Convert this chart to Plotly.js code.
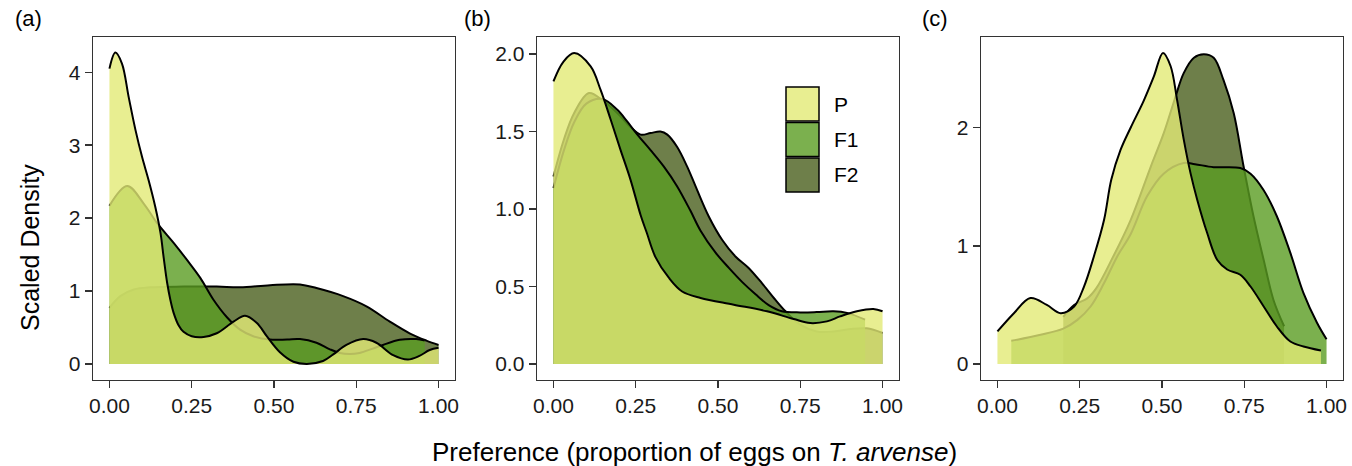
<!DOCTYPE html>
<html>
<head>
<meta charset="utf-8">
<script src="https://cdn.plot.ly/plotly-3.0.1.min.js"></script>
<style>html,body{margin:0;padding:0;background:#fff}#chart{width:1352px;height:466px}</style>
</head>
<body>
<div id="chart"></div>
<script>
// ---------- data ----------
const groups = ["P", "F1", "F2"];
const panelTags = ["(a)", "(b)", "(c)"];
const xTickVals = [0, 0.25, 0.5, 0.75, 1];
const xTickText = ["0.00", "0.25", "0.50", "0.75", "1.00"];

// panel (a)
const aP_x = [0, 0.018, 0.038, 0.058, 0.079, 0.099, 0.119, 0.139, 0.155, 0.165, 0.175, 0.185, 0.195, 0.21, 0.225, 0.25, 0.286, 0.326, 0.377, 0.412, 0.448, 0.478, 0.518, 0.559, 0.6, 0.649, 0.68, 0.72, 0.771, 0.811, 0.862, 0.907, 0.942, 0.973, 1.0];
const aP_y = [4.05, 4.27, 4.12, 3.67, 3.21, 2.84, 2.52, 2.16, 1.8, 1.45, 1.12, 0.88, 0.70, 0.53, 0.44, 0.38, 0.37, 0.42, 0.58, 0.66, 0.56, 0.38, 0.16, 0.03, 0.0, 0.04, 0.13, 0.26, 0.34, 0.29, 0.12, 0.06, 0.11, 0.19, 0.22];
const aF1_x = [0, 0.054, 0.104, 0.145, 0.195, 0.235, 0.276, 0.316, 0.357, 0.397, 0.437, 0.488, 0.54, 0.579, 0.629, 0.67, 0.70, 0.73, 0.76, 0.80, 0.831, 0.882, 0.932, 0.958];
const aF1_y = [2.17, 2.44, 2.2, 1.93, 1.66, 1.43, 1.18, 0.88, 0.64, 0.47, 0.38, 0.333, 0.335, 0.34, 0.29, 0.20, 0.15, 0.135, 0.15, 0.21, 0.26, 0.33, 0.34, 0.32];
const aF2_x = [0, 0.033, 0.074, 0.124, 0.225, 0.326, 0.397, 0.488, 0.579, 0.629, 0.71, 0.781, 0.852, 0.912, 0.963, 1.0];
const aF2_y = [0.77, 0.93, 1.02, 1.05, 1.06, 1.06, 1.05, 1.08, 1.09, 1.04, 0.93, 0.79, 0.58, 0.42, 0.32, 0.26];

// panel (b)
const bP_x = [0, 0.03, 0.063, 0.113, 0.143, 0.174, 0.204, 0.234, 0.265, 0.283, 0.31, 0.351, 0.391, 0.447, 0.548, 0.649, 0.73, 0.78, 0.831, 0.871, 0.922, 0.972, 1.0];
const bP_y = [1.823, 1.95, 2.006, 1.92, 1.77, 1.576, 1.38, 1.19, 0.96, 0.85, 0.69, 0.555, 0.468, 0.426, 0.383, 0.34, 0.29, 0.264, 0.275, 0.307, 0.34, 0.355, 0.34];
const bF1_x = [0, 0.032, 0.063, 0.1, 0.149, 0.194, 0.224, 0.255, 0.295, 0.335, 0.376, 0.416, 0.447, 0.492, 0.533, 0.573, 0.614, 0.654, 0.694, 0.75, 0.80, 0.851, 0.892, 0.947];
const bF1_y = [1.135, 1.38, 1.56, 1.68, 1.71, 1.64, 1.565, 1.48, 1.38, 1.275, 1.146, 0.99, 0.86, 0.72, 0.62, 0.53, 0.45, 0.38, 0.34, 0.333, 0.335, 0.34, 0.33, 0.286];
const bF2_x = [0, 0.032, 0.063, 0.108, 0.15, 0.194, 0.234, 0.265, 0.295, 0.325, 0.346, 0.376, 0.406, 0.432, 0.472, 0.513, 0.553, 0.593, 0.634, 0.674, 0.705, 0.75, 0.80, 0.851, 0.902, 0.952, 1.0];
const bF2_y = [1.21, 1.45, 1.62, 1.748, 1.70, 1.62, 1.53, 1.48, 1.49, 1.50, 1.48, 1.40, 1.275, 1.146, 0.952, 0.80, 0.694, 0.62, 0.52, 0.415, 0.34, 0.254, 0.21, 0.21, 0.226, 0.23, 0.20];

// panel (c)
const cP_x = [0, 0.05, 0.10, 0.15, 0.192, 0.233, 0.263, 0.293, 0.324, 0.346, 0.374, 0.405, 0.445, 0.475, 0.503, 0.526, 0.546, 0.566, 0.587, 0.607, 0.637, 0.668, 0.698, 0.738, 0.769, 0.809, 0.849, 0.89, 0.93, 0.983];
const cP_y = [0.276, 0.43, 0.558, 0.50, 0.431, 0.487, 0.656, 0.91, 1.22, 1.56, 1.81, 2.0, 2.23, 2.43, 2.63, 2.52, 2.23, 1.90, 1.61, 1.39, 1.11, 0.88, 0.80, 0.755, 0.656, 0.487, 0.318, 0.191, 0.149, 0.115];
const cF1_x = [0.042, 0.131, 0.2, 0.243, 0.283, 0.324, 0.364, 0.405, 0.455, 0.505, 0.566, 0.6, 0.657, 0.738, 0.769, 0.809, 0.849, 0.89, 0.93, 0.971, 1.0];
const cF1_y = [0.197, 0.248, 0.30, 0.374, 0.487, 0.685, 0.91, 1.1, 1.42, 1.61, 1.70, 1.69, 1.665, 1.657, 1.61, 1.47, 1.25, 0.94, 0.60, 0.35, 0.21];
const cF2_x = [0.2, 0.233, 0.273, 0.3, 0.35, 0.405, 0.466, 0.505, 0.541, 0.566, 0.597, 0.627, 0.657, 0.687, 0.718, 0.748, 0.778, 0.809, 0.839, 0.871];
const cF2_y = [0.40, 0.50, 0.556, 0.64, 0.90, 1.22, 1.67, 1.95, 2.26, 2.46, 2.59, 2.62, 2.59, 2.40, 2.12, 1.67, 1.25, 0.88, 0.54, 0.32];

// ---------- styling ----------
const fills = {P: "rgba(226,234,118,0.8)", F1: "rgba(90,156,34,0.8)", F2: "rgba(74,95,29,0.8)"};
const FONT = "Liberation Sans, Arial, Helvetica, sans-serif";
const W = 1352, H = 466;

const panels = [
  {P: [aP_x, aP_y], F1: [aF1_x, aF1_y], F2: [aF2_x, aF2_y], yr: [-0.214, 4.484], yt: [0,1,2,3,4], yfmt: "d"},
  {P: [bP_x, bP_y], F1: [bF1_x, bF1_y], F2: [bF2_x, bF2_y], yr: [-0.1, 2.11], yt: [0,0.5,1,1.5,2], yfmt: ".1f"},
  {P: [cP_x, cP_y], F1: [cF1_x, cF1_y], F2: [cF2_x, cF2_y], yr: [-0.13, 2.765], yt: [0,1,2], yfmt: "d"}
];
const xDomains = [[93/W, 455/W], [537/W, 899/W], [981/W, 1343/W]];
const yDomain = [1 - 379.5/H, 1 - 37/H];

const traces = [];
const drawOrder = ["F2", "F1", "P"];
panels.forEach((pn, i) => {
  const sfx = i === 0 ? "" : String(i + 1);
  drawOrder.forEach(g => {
    traces.push({
      type: "scatter", mode: "lines",
      x: pn[g][0], y: pn[g][1],
      xaxis: "x" + sfx, yaxis: "y" + sfx,
      fill: "tozeroy", fillcolor: fills[g],
      line: {color: "#000", width: 2, shape: "spline", smoothing: 1},
      name: g, showlegend: false, hoverinfo: "skip"
    });
  });
});

const layout = {
  width: W, height: H,
  margin: {l: 0, r: 0, t: 0, b: 0},
  paper_bgcolor: "#fff", plot_bgcolor: "#fff",
  showlegend: false,
  font: {family: FONT, color: "#1a1a1a", size: 21},
  shapes: [], annotations: []
};
panels.forEach((pn, i) => {
  const sfx = i === 0 ? "" : String(i + 1);
  const common = {
    showline: true, mirror: true, linecolor: "#333", linewidth: 1.4,
    ticks: "outside", ticklen: 7, tickwidth: 1.4, tickcolor: "#333",
    showgrid: false, zeroline: false, fixedrange: true,
    tickfont: {family: FONT, size: 21, color: "#1a1a1a"}
  };
  layout["xaxis" + sfx] = Object.assign({}, common, {
    domain: xDomains[i], anchor: "y" + sfx, range: [-0.05, 1.05],
    tickvals: xTickVals, ticktext: xTickText
  });
  layout["yaxis" + sfx] = Object.assign({}, common, {
    domain: yDomain, anchor: "x" + sfx, range: pn.yr,
    tickvals: pn.yt, tickformat: pn.yfmt
  });
  layout.annotations.push({
    text: panelTags[i], xref: "paper", yref: "paper",
    x: [13, 462, 920][i] / W, y: 1 - 18/H, xanchor: "left", yanchor: "middle",
    showarrow: false, font: {family: FONT, size: 22, color: "#000"}
  });
});

// axis titles
layout.annotations.push({
  text: "Scaled Density", xref: "paper", yref: "paper",
  x: 30/W, y: 1 - 248/H, textangle: -90, xanchor: "center", yanchor: "middle",
  showarrow: false, font: {family: FONT, size: 25, color: "#000"}
});
layout.annotations.push({
  text: "Preference (proportion of eggs on <i>T. arvense</i>)",
  xref: "paper", yref: "paper",
  x: 694/W, y: 1 - 452/H, xanchor: "center", yanchor: "middle",
  showarrow: false, font: {family: FONT, size: 26, color: "#000"}
});

// legend (drawn inside panel b)
const keyTop = [87, 122.5, 158];
groups.forEach((g, k) => {
  layout.shapes.push({
    type: "rect", xref: "paper", yref: "paper",
    x0: 786/W, x1: 819/W, y0: 1 - (keyTop[k] + 34)/H, y1: 1 - keyTop[k]/H,
    fillcolor: fills[g], line: {color: "#000", width: 1.5}
  });
  layout.annotations.push({
    text: g, xref: "paper", yref: "paper",
    x: 832/W, y: 1 - (keyTop[k] + 17)/H, xanchor: "left", yanchor: "middle",
    showarrow: false, font: {family: FONT, size: 21, color: "#000"}
  });
});

Plotly.newPlot("chart", traces, layout, {staticPlot: true, displayModeBar: false});
</script>
</body>
</html>
